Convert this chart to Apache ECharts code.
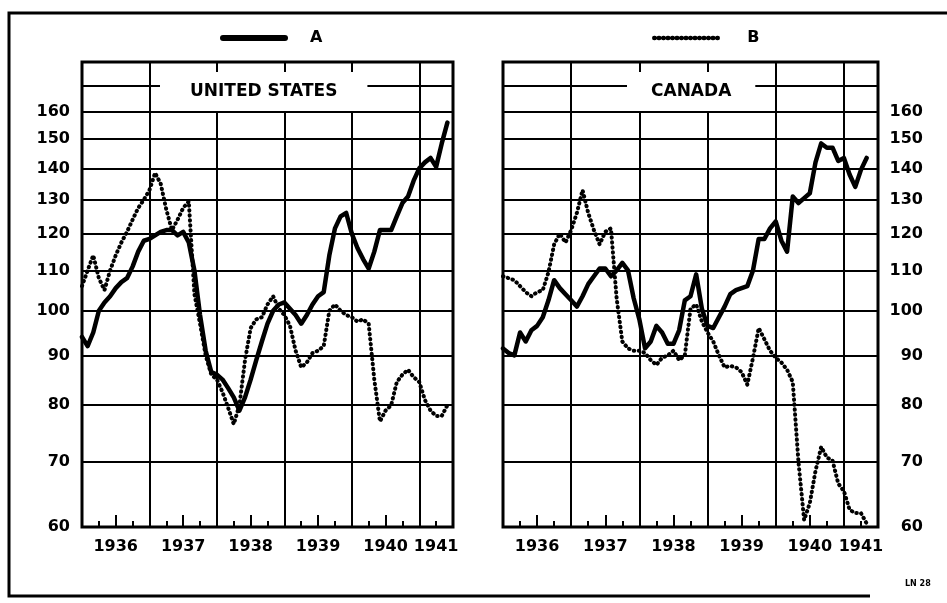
<!DOCTYPE html>
<html>
<head>
<meta charset="utf-8">
<title>United States / Canada 1936-1941</title>
<script src="https://cdn.jsdelivr.net/npm/echarts@6/dist/echarts.min.js"></script>
<style>
  html, body { margin: 0; padding: 0; background: #fff; }
  #chart { width: 947px; height: 603px; }
</style>
</head>
<body>
<div id="chart"></div>
<script>
// monthly values, first point = Jan 1936
const usA = [94, 92, 95, 100, 102, 103.5, 105.5, 107, 108, 111, 115, 118,
  118.5, 119.5, 120.5, 121, 121, 119.5, 120.5, 117.5, 110, 99, 91, 86.5,
  86, 85, 83.3, 81.5, 79, 81.5, 85, 89, 93, 97, 100, 101.5,
  102, 100.5, 99, 97, 99, 101.5, 103.5, 104.5, 114, 121.5, 125, 126,
  120, 116, 113, 110.5, 115, 121, 121, 121, 125, 129, 131, 136,
  140, 142, 143.5, 140.5, 148.5, 156]
const usB = [106, 110, 114, 108, 105, 110, 114, 117.5, 120.5, 124, 127.5, 130,
  133, 138.5, 135, 127, 121, 124, 127.5, 129.5, 104, 97, 90, 86,
  85, 82.5, 79.5, 76.5, 80, 89, 96, 98, 98.5, 101.5, 103.5, 100.5,
  99, 96.5, 91, 87.5, 88.5, 90.5, 91, 92, 100, 101.5, 100, 99,
  98.5, 97.5, 98, 97, 85, 77, 79, 80, 84.5, 86, 87, 85.5,
  84.5, 81, 79, 78, 78, 80]
const caA = [91.5, 90.5, 90, 95, 93, 95.5, 96.5, 98.5, 102.5, 107.5, 105.5, 104,
  102.5, 101, 103.5, 106.5, 108.5, 110.5, 110.5, 108.5, 110, 112, 110, 103,
  98, 91.5, 93, 96.5, 95, 92.5, 92.5, 95.5, 102.5, 103.5, 109, 100.5,
  96.5, 96, 98.5, 101, 104, 105, 105.5, 106, 110, 118.5, 118.5, 121.5,
  123.5, 118, 115, 131, 129, 130.5, 132, 142, 148.5, 147, 147, 142.5,
  143.5, 138, 134, 139.5, 143.5]
const caB = [108.5, 108, 107.5, 106, 104.5, 103.5, 104.5, 105, 109.5, 117, 120, 117.5,
  121, 126, 133, 126, 121, 117, 120.5, 121.5, 103, 93, 91.5, 91,
  91, 90.5, 89, 88, 89.5, 90, 91, 89, 90, 100.5, 101.5, 97.5,
  95, 93, 90, 87.5, 87.8, 87.5, 86.5, 84, 89.5, 96, 93.5, 91,
  89.5, 88.5, 87, 84.5, 70, 61, 63.5, 68.5, 72.5, 70.7, 70.2, 66.5,
  65.3, 62.5, 62, 62, 60.5]

const gridValues = [60, 70, 80, 90, 100, 110, 120, 130, 140, 150, 160, 170]
const labelYears = [1936.5, 1937.5, 1938.5, 1939.5, 1940.5, 1941.25]

const font = 'DejaVu Sans'
const black = '#000'

function pairs(values) {
  return values.map((v, i) => [1936 + i / 12, v])
}

function gridLines(side) {
  return {
    silent: true,
    symbol: 'none',
    animation: false,
    lineStyle: { color: black, width: 2, type: 'solid' },
    label: {
      show: true,
      position: side === 'left' ? 'start' : 'end',
      align: 'right',
      distance: side === 'left' ? 12 : 45,
      color: black,
      fontFamily: font,
      fontWeight: 'bold',
      fontSize: 16,
      formatter: p => (p.value > 160 ? '' : p.value)
    },
    emphasis: { disabled: true },
    data: gridValues.map(v => ({ yAxis: v }))
  }
}

function xAxes(gridIndex) {
  return [
    {
      // year boundaries
      type: 'value', gridIndex, min: 1936, max: 1941.5, interval: 1, position: 'top',
      axisLine: { show: false }, axisTick: { show: false }, axisLabel: { show: false },
      splitLine: { show: true, lineStyle: { color: black, width: 2 } }
    },
    {
      // quarter ticks and year labels
      type: 'value', gridIndex, min: 1936, max: 1941.5, interval: 0.5, position: 'bottom',
      axisLine: { show: false },
      axisTick: { show: true, inside: true, length: 12, lineStyle: { color: black, width: 2 } },
      minorTick: { show: true, splitNumber: 2, length: 6, lineStyle: { color: black, width: 2 } },
      splitLine: { show: false },
      axisLabel: {
        customValues: labelYears,
        formatter: v => Math.floor(v),
        margin: 12,
        color: black, fontFamily: font, fontWeight: 'bold', fontSize: 16
      }
    }
  ]
}

function yAxis(gridIndex) {
  return {
    type: 'log', gridIndex, logBase: 10, min: 60, max: 180,
    axisLine: { show: false }, axisTick: { show: false },
    axisLabel: { show: false }, splitLine: { show: false }
  }
}

const solid = { color: black, width: 4.5, join: 'round', cap: 'round' }
const dotted = { color: black, width: 4, type: [0.5, 4.5], cap: 'round', join: 'round' }
const titleText = { color: black, fontFamily: font, fontWeight: 'bold', fontSize: 17 }
const legendText = { color: black, fontFamily: font, fontWeight: 'bold', fontSize: 16 }

const chart = echarts.init(document.getElementById('chart'))
chart.setOption({
  animation: false,
  backgroundColor: '#fff',
  title: [
    { text: 'UNITED STATES', left: 160, top: 72, padding: [11, 30], backgroundColor: '#fff', textStyle: titleText },
    { text: 'CANADA', left: 627, top: 72, padding: [11, 24], backgroundColor: '#fff', textStyle: titleText },
    { text: 'LN 28', left: 905, top: 580, padding: 0, textStyle: { color: black, fontFamily: font, fontWeight: 'bold', fontSize: 8 } }
  ],
  legend: [
    {
      data: ['A'], left: 215, top: 25, itemWidth: 62, itemHeight: 14, selectedMode: false,
      itemStyle: { opacity: 0 },
      lineStyle: { width: 6, color: black, cap: 'round' },
      textStyle: Object.assign({ padding: [0, 0, 0, 20] }, legendText)
    },
    {
      data: ['B'], left: 647, top: 25, itemWidth: 66, itemHeight: 14, selectedMode: false,
      itemStyle: { opacity: 0 },
      lineStyle: { width: 4.5, color: black, type: [0.5, 4], cap: 'round' },
      textStyle: Object.assign({ padding: [0, 0, 0, 22] }, legendText)
    }
  ],
  grid: [
    { left: 82, top: 62, width: 371, height: 465, show: true, borderColor: black, borderWidth: 3 },
    { left: 503, top: 62, width: 375, height: 465, show: true, borderColor: black, borderWidth: 3 }
  ],
  xAxis: [...xAxes(0), ...xAxes(1)],
  yAxis: [yAxis(0), yAxis(1)],
  graphic: [
    {
      type: 'polyline',
      shape: { points: [[947, 13], [9, 13], [9, 596], [870, 596]] },
      style: { stroke: black, lineWidth: 3, fill: null },
      silent: true
    }
  ],
  series: [
    {
      name: 'A', type: 'line', xAxisIndex: 1, yAxisIndex: 0, data: pairs(usA),
      symbol: 'none', lineStyle: solid, itemStyle: { color: black }, z: 3, markLine: gridLines('left')
    },
    {
      name: 'B', type: 'line', xAxisIndex: 1, yAxisIndex: 0, data: pairs(usB),
      symbol: 'none', lineStyle: dotted, itemStyle: { color: black }, z: 3
    },
    {
      name: 'A', type: 'line', xAxisIndex: 3, yAxisIndex: 1, data: pairs(caA),
      symbol: 'none', lineStyle: solid, itemStyle: { color: black }, z: 3, markLine: gridLines('right')
    },
    {
      name: 'B', type: 'line', xAxisIndex: 3, yAxisIndex: 1, data: pairs(caB),
      symbol: 'none', lineStyle: dotted, itemStyle: { color: black }, z: 3
    }
  ]
})
</script>
</body>
</html>
